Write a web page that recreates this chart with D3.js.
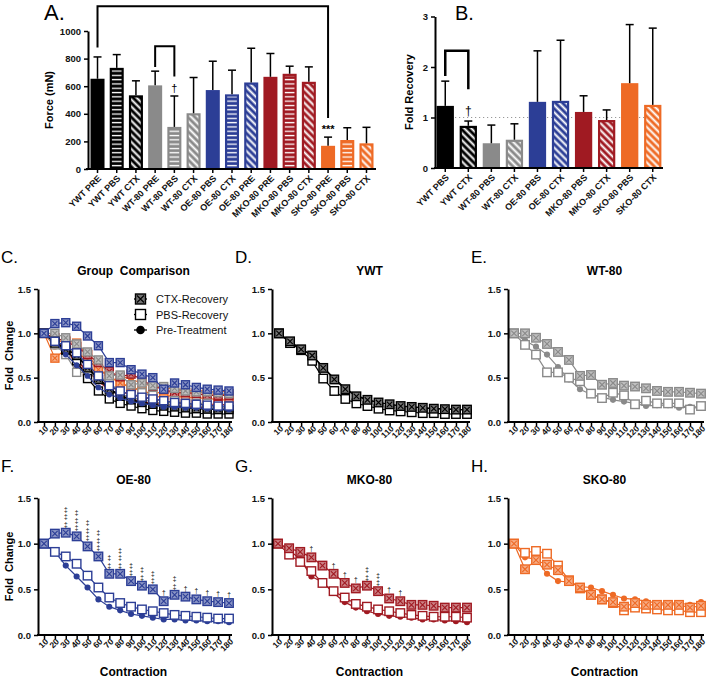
<!DOCTYPE html>
<html><head><meta charset="utf-8">
<script src="https://cdn.jsdelivr.net/npm/d3@7"></script>
<style>body{margin:0;background:#fff} svg{display:block} text{font-family:"Liberation Sans",Arial,sans-serif;-webkit-font-smoothing:antialiased}</style>
</head><body><svg id="c" width="709" height="678"></svg>
<script>
// ---------------- DATA ----------------
const barLabelsA = ["YWT PRE","YWT PBS","YWT CTX","WT-80 PRE","WT-80 PBS","WT-80 CTX","OE-80 PBS","OE-80 CTX","OE-80 PRE","MKO-80 PRE","MKO-80 PBS","MKO-80 CTX","SKO-80 PRE","SKO-80 PBS","SKO-80 CTX"];
const forceMean   = [654,733,534,606,305,404,572,541,627,668,690,632,168,210,186];
const forceErrTop = [812,829,639,709,529,663,781,716,875,837,745,740,231,299,302];
const forceTicks  = [0,200,400,600,800,1000];

const barLabelsB = ["YWT PBS","YWT CTX","WT-80 PBS","WT-80 CTX","OE-80 PBS","OE-80 CTX","MKO-80 PBS","MKO-80 CTX","SKO-80 PBS","SKO-80 CTX"];
const recoveryMean   = [1.23,0.835,0.49,0.56,1.31,1.33,1.11,0.95,1.68,1.25];
const recoveryErrTop = [1.72,0.93,0.85,0.875,2.32,2.53,1.43,1.15,2.84,2.77];
const recoveryTicks  = [0,1,2,3];

const groups = ["YWT","WT-80","OE-80","MKO-80","SKO-80"];
const contraction = [10,20,30,40,50,60,70,80,90,100,110,120,130,140,150,160,170,180];
const foldTicks = [0,0.5,1.0,1.5];

const ywtCTX = [1.0,0.91,0.82,0.75,0.61,0.48,0.37,0.29,0.25,0.22,0.20,0.18,0.17,0.16,0.15,0.145,0.14,0.14];
const ywtPBS = [1.0,0.89,0.81,0.69,0.49,0.35,0.26,0.21,0.18,0.15,0.13,0.12,0.11,0.10,0.10,0.09,0.09,0.09];
const ywtPRE = [1.0,0.90,0.83,0.75,0.62,0.49,0.38,0.30,0.25,0.22,0.20,0.18,0.17,0.16,0.15,0.15,0.14,0.14];

const wtCTX = [1.0,1.0,0.95,0.88,0.79,0.70,0.52,0.53,0.42,0.44,0.41,0.40,0.38,0.35,0.34,0.34,0.33,0.32];
const wtPBS = [1.0,0.87,0.76,0.56,0.56,0.50,0.46,0.32,0.27,0.33,0.30,0.20,0.24,0.21,0.21,0.21,0.14,0.18];
const wtPRE = [1.0,0.92,0.85,0.76,0.62,0.48,0.37,0.31,0.28,0.25,0.23,0.21,0.18,0.19,0.19,0.16,0.17,0.17];

const oeCTX = [1.0,1.11,1.12,1.08,0.97,0.86,0.67,0.67,0.59,0.54,0.50,0.37,0.44,0.42,0.39,0.37,0.36,0.35];
const oePBS = [1.0,0.91,0.86,0.78,0.65,0.52,0.41,0.35,0.31,0.28,0.26,0.24,0.22,0.21,0.20,0.19,0.18,0.18];
const oePRE = [1.0,0.91,0.76,0.64,0.52,0.39,0.31,0.27,0.23,0.21,0.19,0.17,0.17,0.16,0.16,0.15,0.15,0.14];

const mkoCTX = [1.0,0.95,0.91,0.85,0.76,0.67,0.57,0.51,0.54,0.48,0.40,0.37,0.33,0.33,0.32,0.30,0.30,0.30];
const mkoPBS = [1.0,0.88,0.80,0.70,0.57,0.48,0.41,0.34,0.31,0.28,0.26,0.24,0.22,0.21,0.20,0.20,0.20,0.19];
const mkoPRE = [1.0,0.93,0.83,0.64,0.58,0.46,0.36,0.30,0.26,0.23,0.21,0.20,0.19,0.17,0.17,0.16,0.15,0.14];

const skoCTX = [1.0,0.72,0.82,0.77,0.71,0.59,0.52,0.44,0.39,0.36,0.31,0.35,0.33,0.33,0.33,0.33,0.30,0.32];
const skoPBS = [1.0,0.90,0.92,0.89,0.76,0.60,0.51,0.44,0.39,0.35,0.27,0.30,0.29,0.28,0.27,0.27,0.25,0.25];
const skoPRE = [1.0,0.85,0.83,0.67,0.59,0.58,0.53,0.52,0.48,0.44,0.40,0.39,0.37,0.35,0.35,0.35,0.33,0.36];

const oeMarks  = ["","","‡‡‡","‡‡‡","‡‡‡","‡‡‡","‡‡","‡‡‡","‡‡","‡‡","‡‡","†","‡‡","†","†","†","†","†"];
const mkoMarks = ["","","","†","","†","†","†","‡‡","‡‡","†","†","","","","","",""];

const seriesNames = ["CTX-Recovery","PBS-Recovery","Pre-Treatment"];

// ---------------- SETUP ----------------
const seriesData = {
  "YWT":{ctx:ywtCTX,pbs:ywtPBS,pre:ywtPRE},
  "WT-80":{ctx:wtCTX,pbs:wtPBS,pre:wtPRE},
  "OE-80":{ctx:oeCTX,pbs:oePBS,pre:oePRE},
  "MKO-80":{ctx:mkoCTX,pbs:mkoPBS,pre:mkoPRE},
  "SKO-80":{ctx:skoCTX,pbs:skoPBS,pre:skoPRE}
};
const color = d3.scaleOrdinal().domain(groups).range(["#000000","#8a8a8a","#2c3e96","#a01a22","#ee6a25"]);
const groupOf = l => l.split(" ")[0];
const symFont = "'DejaVu Sans',sans-serif";

const svg = d3.select("#c");
const defs = svg.append("defs");
groups.forEach((g,i)=>{
  const c = color(g);
  const ph = defs.append("pattern").attr("id","h"+i).attr("patternUnits","userSpaceOnUse").attr("width",4).attr("height",4.3);
  ph.append("rect").attr("width",4).attr("height",4.3).attr("fill",c);
  ph.append("rect").attr("x",0).attr("y",1.6).attr("width",4).attr("height",1.3).attr("fill","#fff");
  const pd = defs.append("pattern").attr("id","d"+i).attr("patternUnits","userSpaceOnUse").attr("width",5).attr("height",5).attr("patternTransform","rotate(-45)");
  pd.append("rect").attr("width",5).attr("height",5).attr("fill",c);
  pd.append("rect").attr("x",1.5).attr("y",0).attr("width",2).attr("height",5).attr("fill","#fff");
});

function styleAxis(g){
  g.select(".domain").attr("stroke","#000").attr("stroke-width",2);
  g.selectAll(".tick line").attr("stroke","#000").attr("stroke-width",1.5);
  g.selectAll(".tick text").attr("font-size",9.5).attr("font-weight","bold").attr("fill","#111");
}

function drawBar(g, x, w, yTop, yBot, c, pat, gi){
  g.append("rect").attr("x",x).attr("y",yTop).attr("width",w).attr("height",yBot-yTop).attr("fill",c);
  if(pat!=="solid"){
    const ins = 2.2;
    g.append("rect").attr("x",x+ins).attr("y",yTop+ins).attr("width",w-2*ins).attr("height",Math.max(0,yBot-yTop-ins))
      .attr("fill",`url(#${pat==="h"?"h":"d"}${gi})`);
  }
}
function errBar(g, cx, yTop, yErr){
  g.append("line").attr("x1",cx).attr("x2",cx).attr("y1",yTop).attr("y2",yErr).attr("stroke","#000").attr("stroke-width",1.5);
  g.append("line").attr("x1",cx-4).attr("x2",cx+4).attr("y1",yErr).attr("y2",yErr).attr("stroke","#000").attr("stroke-width",1.5);
}

// ---------------- PANEL A ----------------
{
  const g = svg.append("g");
  const x = d3.scaleBand().domain(barLabelsA).range([88,376]).paddingInner(0.27).paddingOuter(0.13);
  const y = d3.scaleLinear().domain([0,1000]).range([169,31]);
  const posInGroup = {};
  barLabelsA.forEach((l,i)=>{
    const grp = groupOf(l); posInGroup[grp]=(posInGroup[grp]||0);
    const k = posInGroup[grp]++;
    const pat = ["solid","h","d"][k%3];
    drawBar(g, x(l), x.bandwidth(), y(forceMean[i]), y(0), color(grp), pat, groups.indexOf(grp));
    errBar(g, x(l)+x.bandwidth()/2, y(forceMean[i]), y(forceErrTop[i]));
  });
  const ya = g.append("g").attr("transform","translate(88,0)").call(d3.axisLeft(y).tickValues(forceTicks).tickFormat(d3.format("d")).tickSize(4).tickSizeOuter(0));
  styleAxis(ya);
  const xa = g.append("g").attr("transform","translate(0,169)").call(d3.axisBottom(x).tickSize(4).tickSizeOuter(0));
  xa.select(".domain").attr("d","M86,0H376");
  styleAxis(xa);
  xa.selectAll(".tick text").attr("font-size",9).attr("text-anchor","end").attr("x",-4).attr("y",7).attr("dy","0.35em").attr("transform","rotate(-45)");
  g.append("text").attr("transform","translate(53,100) rotate(-90)").attr("text-anchor","middle").attr("font-size",11).attr("font-weight","bold").text("Force (mN)");
  const cx = l => x(l)+x.bandwidth()/2;
  g.append("path").attr("d",`M${cx(barLabelsA[0])},${y(880)}V${y(1180)}H${cx(barLabelsA[12])}V${y(370)}`).attr("fill","none").attr("stroke","#000").attr("stroke-width",2);
  g.append("path").attr("d",`M${cx(barLabelsA[3])},${y(740)}V${y(890)}H${cx(barLabelsA[4])}V${y(670)}`).attr("fill","none").attr("stroke","#000").attr("stroke-width",2);
  g.append("text").attr("x",cx(barLabelsA[4])).attr("y",y(560)).attr("text-anchor","middle").attr("font-family",symFont).attr("font-size",11).attr("fill","#000").text("†");
  g.append("text").attr("x",cx(barLabelsA[12])).attr("y",y(262)).attr("text-anchor","middle").attr("font-size",11).attr("font-weight","bold").text("***");
  g.append("text").attr("x",44).attr("y",20).attr("font-family","'Open Sans',sans-serif").attr("font-size",22).text("A.");
}

// ---------------- PANEL B ----------------
{
  const g = svg.append("g");
  const x = d3.scaleBand().domain(barLabelsB).range([435,663]).paddingInner(0.25).paddingOuter(0.07);
  const y = d3.scaleLinear().domain([0,3]).range([168,16.5]);
  g.append("line").attr("x1",435).attr("x2",663).attr("y1",y(1)).attr("y2",y(1)).attr("stroke","#999").attr("stroke-width",1.2).attr("stroke-dasharray","1.2,2.8");
  barLabelsB.forEach((l,i)=>{
    const grp = groupOf(l);
    const pat = l.endsWith("CTX") ? "d" : "solid";
    drawBar(g, x(l), x.bandwidth(), y(recoveryMean[i]), y(0), color(grp), pat, groups.indexOf(grp));
    errBar(g, x(l)+x.bandwidth()/2, y(recoveryMean[i]), y(recoveryErrTop[i]));
  });
  const ya = g.append("g").attr("transform","translate(435,0)").call(d3.axisLeft(y).tickValues(recoveryTicks).tickFormat(d3.format("d")).tickSize(4).tickSizeOuter(0));
  styleAxis(ya);
  const xa = g.append("g").attr("transform","translate(0,168)").call(d3.axisBottom(x).tickSize(4).tickSizeOuter(0));
  xa.select(".domain").attr("d","M434,0H663");
  styleAxis(xa);
  xa.selectAll(".tick text").attr("font-size",9).attr("text-anchor","end").attr("x",-4).attr("y",7).attr("dy","0.35em").attr("transform","rotate(-45)");
  g.append("text").attr("transform","translate(413,92) rotate(-90)").attr("text-anchor","middle").attr("font-size",11).attr("font-weight","bold").text("Fold Recovery");
  const cx = l => x(l)+x.bandwidth()/2;
  g.append("path").attr("d",`M${cx(barLabelsB[0])},${y(1.82)}V${y(2.32)}H${cx(barLabelsB[1])}V${y(1.56)}`).attr("fill","none").attr("stroke","#000").attr("stroke-width",2.5);
  g.append("text").attr("x",cx(barLabelsB[1])).attr("y",y(1.0)-3).attr("text-anchor","middle").attr("font-family",symFont).attr("font-size",12).attr("fill","#000").text("†");
  g.append("text").attr("x",455).attr("y",20).attr("font-family","'Open Sans',sans-serif").attr("font-size",20).text("B.");
}

// ---------------- LINE PANELS ----------------
function marker(g, type, cx, cy, c, s){
  if(type==="pre"){
    g.append("circle").attr("cx",cx).attr("cy",cy).attr("r",s*0.36).attr("fill",c);
  } else {
    const h = s/2;
    g.append("rect").attr("x",cx-h).attr("y",cy-h).attr("width",s).attr("height",s)
      .attr("fill", type==="ctx" ? d3.interpolateRgb(c,"#fff")(0.45) : "#fff")
      .attr("stroke",c).attr("stroke-width",1.4);
    if(type==="ctx"){
      const k = h-1.5;
      g.append("path").attr("d",`M${cx-k},${cy-k}L${cx+k},${cy+k}M${cx+k},${cy-k}L${cx-k},${cy+k}`).attr("stroke",c).attr("stroke-width",1.1);
    }
  }
}

const panels = [
  {letter:"C.", title:"Group  Comparison", ax:38, x0:44, x1:229, yT:289, yB:422, grp:groups, ylab:true, xlab:false, legend:true},
  {letter:"D.", title:"YWT", ax:272, x0:279, x1:467, yT:289, yB:422, grp:["YWT"]},
  {letter:"E.", title:"WT-80", ax:508, x0:514, x1:701, yT:289, yB:422, grp:["WT-80"]},
  {letter:"F.", title:"OE-80", ax:38, x0:44, x1:229, yT:498, yB:635, grp:["OE-80"], ylab:true, xlab:true, marks:oeMarks},
  {letter:"G.", title:"MKO-80", ax:272, x0:278, x1:467, yT:498, yB:635, grp:["MKO-80"], xlab:true, marks:mkoMarks},
  {letter:"H.", title:"SKO-80", ax:508, x0:514, x1:701, yT:498, yB:635, grp:["SKO-80"], xlab:true}
];

panels.forEach(p=>{
  const g = svg.append("g");
  const x = d3.scalePoint().domain(contraction).range([p.x0,p.x1]);
  const y = d3.scaleLinear().domain([0,1.5]).range([p.yB,p.yT]);
  const line = d3.line().x((d,i)=>x(contraction[i])).y(d=>y(d));
  const order = p.grp.length>1 ? ["SKO-80","MKO-80","WT-80","YWT","OE-80"] : p.grp;
  const s = p.grp.length>1 ? 8 : 8.5;
  order.forEach(gr=>{
    const c = color(gr), sd = seriesData[gr];
    ["pre","pbs","ctx"].forEach(t=>{
      g.append("path").attr("d",line(sd[t])).attr("fill","none").attr("stroke",c).attr("stroke-width",1.2);
    });
    ["pre","pbs","ctx"].forEach(t=>{
      sd[t].forEach((v,i)=>marker(g,t,x(contraction[i]),y(v),c,s));
    });
  });
  if(p.marks){
    const sd = seriesData[p.grp[0]];
    p.marks.forEach((m,i)=>{
      if(!m) return;
      const chars = m.split("");
      chars.forEach((ch,j)=>{
        g.append("text").attr("x",x(contraction[i])).attr("y",y(sd.ctx[i])-6-(chars.length-1-j)*7.5)
          .attr("text-anchor","middle").attr("font-family",symFont).attr("font-size",6.5).attr("fill","#000").text(ch);
      });
    });
  }
  const ya = g.append("g").attr("transform",`translate(${p.ax},0)`).call(d3.axisLeft(y).tickValues(foldTicks).tickFormat(d3.format(".1f")).tickSize(4).tickSizeOuter(0));
  styleAxis(ya);
  const xa = g.append("g").attr("transform",`translate(0,${p.yB})`).call(d3.axisBottom(x).tickSize(4).tickSizeOuter(0));
  xa.select(".domain").attr("d",`M${p.ax-1},0H${p.x1+3}`);
  styleAxis(xa);
  xa.selectAll(".tick text").attr("font-size",8.5).attr("text-anchor","end").attr("x",-2).attr("y",5).attr("dy","0.35em").attr("transform","rotate(-45)");
  const cxT = (p.ax+p.x1)/2;
  g.append("text").attr("x",cxT).attr("y",p.yT-14).attr("text-anchor","middle").attr("font-size",12).attr("font-weight","bold").attr("xml:space","preserve").text(p.title);
  g.append("text").attr("x",p.ax-37).attr("y",p.yT-26).attr("font-family","'Open Sans',sans-serif").attr("font-size",17).text(p.letter);
  if(p.ylab){
    g.append("text").attr("transform",`translate(${p.ax-25},${(p.yT+p.yB)/2}) rotate(-90)`).attr("text-anchor","middle").attr("font-size",11).attr("font-weight","bold").attr("xml:space","preserve").text("Fold  Change");
  }
  if(p.xlab){
    g.append("text").attr("x",cxT).attr("y",676).attr("text-anchor","middle").attr("font-size",12).attr("font-weight","bold").text("Contraction");
  }
  if(p.legend){
    const types = ["ctx","pbs","pre"];
    types.forEach((t,i)=>{
      const ly = 299 + i*15.5;
      g.append("line").attr("x1",134).attr("x2",147).attr("y1",ly).attr("y2",ly).attr("stroke","#000").attr("stroke-width",1.3);
      marker(g,t,140.5,ly,"#000",t==="pre"?12:10);
      g.append("text").attr("x",156).attr("y",ly+4).attr("font-size",11).attr("fill","#111").text(seriesNames[i]);
    });
  }
});
</script></body></html>
